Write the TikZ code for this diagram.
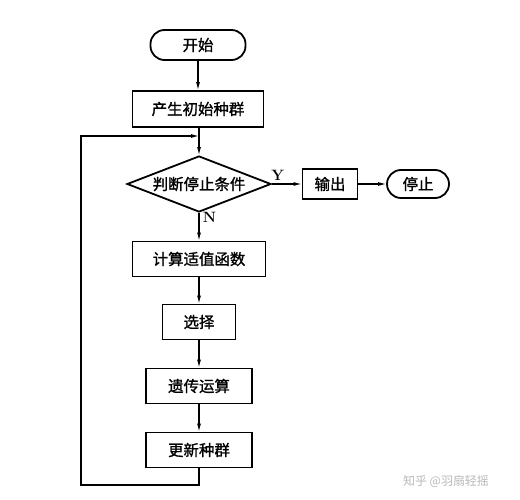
\documentclass[tikz,border=0pt]{standalone}
\usepackage{fontspec}
\usepackage{tikz}
\usetikzlibrary{arrows.meta,shapes.geometric}
\newfontfamily\cjk[FakeBold=1.2]{Noto Sans CJK SC}
\newfontfamily\cjkmark{Noto Sans CJK SC}
\tikzset{
    stepbox/.style={draw,line width=1.8bp,inner sep=0pt,font=\cjk\fontsize{15.5}{18}\selectfont},
    endbox/.style={stepbox,rounded corners=14bp},
    testbox/.style={stepbox,diamond,aspect=2.6},
    arr/.style={line width=1.1bp,-{Latex[length=8bp,width=4bp]}},
    lbl/.style={font=\bfseries\fontsize{15}{17}\selectfont}
}
\begin{document}
\begin{tikzpicture}[x=1bp,y=-1bp]
    \useasboundingbox[fill=white] (0,0) rectangle (520,500);
    \node[endbox,minimum width=95bp,minimum height=30bp] (start) at (198,45) {开始};
    \node[stepbox,minimum width=131bp,minimum height=36bp] (init) at (198,109) {产生初始种群};
    \coordinate (join) at (199,136);
    \node[testbox,minimum width=144bp,minimum height=56bp] (check) at (199,184) {判断停止条件};
    \node[stepbox,minimum width=55bp,minimum height=30bp] (output) at (330,184) {输出};
    \node[endbox,minimum width=62bp,minimum height=28bp] (stop) at (418,184) {停止};
    \node[stepbox,minimum width=133bp,minimum height=35bp] (calc) at (199,259) {计算适值函数};
    \node[stepbox,minimum width=73bp,minimum height=35bp] (select) at (199,322) {选择};
    \node[stepbox,minimum width=106bp,minimum height=35bp] (genetic) at (199,386) {遗传运算};
    \node[stepbox,minimum width=106bp,minimum height=35bp] (update) at (199,450) {更新种群};
    \coordinate (loopb) at (199,485);
    \coordinate (loopl) at (81,485);
    \coordinate (loopt) at (81,136);
    \draw[arr] (start) -- (init);
    \draw[line width=1.1bp] (init.south -| join) -- (join);
    \draw[arr] (join) -- (check);
    \draw[arr] (check) -- node[lbl,above,pos=0.2] {Y} (output);
    \draw[arr] (output) -- (stop);
    \draw[arr] (check) -- node[lbl,right,pos=0.15] {N} (calc);
    \draw[arr] (calc) -- (select);
    \draw[arr] (select) -- (genetic);
    \draw[arr] (genetic) -- (update);
    \draw[arr] (update) -- (loopb) -- (loopl) -- (loopt) -- (join);
    \node[font=\cjkmark\fontsize{12}{14}\selectfont,text=gray!55] (mark) at (446,481) {知乎 @羽扇轻摇};
\end{tikzpicture}
\end{document}
